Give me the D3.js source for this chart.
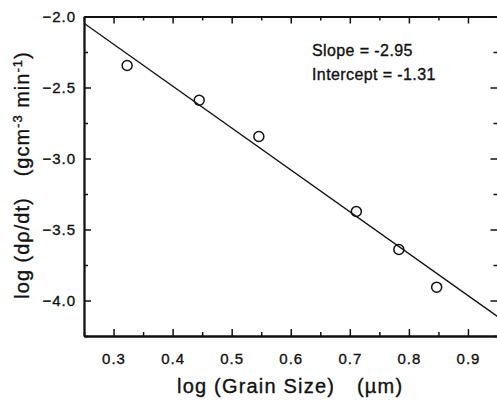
<!DOCTYPE html>
<html>
<head>
<meta charset="utf-8">
<script src="https://cdn.jsdelivr.net/npm/d3@7/dist/d3.min.js"></script>
<style>
  html, body { margin: 0; padding: 0; background: #fff; }
  svg { display: block; }
  text { font-family: "Liberation Sans", Arial, Helvetica, sans-serif; fill: #111; stroke: #111; stroke-width: 0.35px; }
</style>
</head>
<body>
<svg id="chart" width="497" height="403"></svg>
<script>
// Densification rate vs. grain size (log-log), with least-squares fit
const grainLog = [0.323, 0.445, 0.546, 0.711, 0.783, 0.847];
const rateLog  = [-2.345, -2.59, -2.845, -3.373, -3.641, -3.906];

// Fit parameters printed on the chart
const fitSlope = -2.95;
const fitIntercept = -1.31;

const xMajor = [0.3, 0.4, 0.5, 0.6, 0.7, 0.8, 0.9];
const xMinor = [0.25, 0.35, 0.45, 0.55, 0.65, 0.75, 0.85, 0.95];
const yMajor = [-2.0, -2.5, -3.0, -3.5, -4.0];
const yMinor = [-2.25, -2.75, -3.25, -3.75, -4.25];

const xDomain = [0.25, 0.95];
const yDomain = [-4.25, -2.0];

const svg = d3.select("#chart");
const L = 84, R = 497.5, T = 16.5, B = 336;

const x = d3.scaleLinear().domain(xDomain).range([L, R]);
const y = d3.scaleLinear().domain(yDomain).range([B, T]);

const axisStyle = g => {
  g.select(".domain").attr("stroke", "#111").attr("stroke-width", 1.8);
  g.selectAll(".tick line").attr("stroke", "#111").attr("stroke-width", 1.5);
  g.selectAll("text").attr("fill", "#111");
};

// bottom axis with labels
svg.append("g")
  .attr("transform", `translate(0,${B})`)
  .call(d3.axisBottom(x).tickValues(xMajor).tickSize(-7).tickPadding(17).tickFormat(d3.format(".1f")).tickSizeOuter(0))
  .call(axisStyle)
  .call(g => g.selectAll("text")
    .style("font-family", "'Liberation Sans', Arial, sans-serif")
    .style("font-size", "15px").style("letter-spacing", "1px"));
svg.append("g")
  .attr("transform", `translate(0,${B})`)
  .call(d3.axisBottom(x).tickValues(xMinor).tickSize(-4).tickFormat("").tickSizeOuter(0))
  .call(axisStyle);

// top axis
svg.append("g")
  .attr("transform", `translate(0,${T})`)
  .call(d3.axisTop(x).tickValues(xMajor).tickSize(-7).tickFormat("").tickSizeOuter(0))
  .call(axisStyle);
svg.append("g")
  .attr("transform", `translate(0,${T})`)
  .call(d3.axisTop(x).tickValues(xMinor).tickSize(-4).tickFormat("").tickSizeOuter(0))
  .call(axisStyle);

// left axis with labels
svg.append("g")
  .attr("transform", `translate(${L},0)`)
  .call(d3.axisLeft(y).tickValues(yMajor).tickSize(-7).tickPadding(8).tickFormat(d3.format(".1f")).tickSizeOuter(0))
  .call(axisStyle)
  .call(g => g.selectAll("text")
    .style("font-family", "'Liberation Sans', Arial, sans-serif")
    .style("font-size", "15px").style("letter-spacing", "1px"));
svg.append("g")
  .attr("transform", `translate(${L},0)`)
  .call(d3.axisLeft(y).tickValues(yMinor).tickSize(-4).tickFormat("").tickSizeOuter(0))
  .call(axisStyle);

// right axis
svg.append("g")
  .attr("transform", `translate(${R},0)`)
  .call(d3.axisRight(y).tickValues(yMajor).tickSize(-7).tickFormat("").tickSizeOuter(0))
  .call(axisStyle);
svg.append("g")
  .attr("transform", `translate(${R},0)`)
  .call(d3.axisRight(y).tickValues(yMinor).tickSize(-4).tickFormat("").tickSizeOuter(0))
  .call(axisStyle);

// fitted line across the full x range
const fitLine = d3.line().x(d => x(d)).y(d => y(fitIntercept + fitSlope * d));
svg.append("path")
  .datum(xDomain)
  .attr("d", fitLine)
  .attr("fill", "none")
  .attr("stroke", "#111")
  .attr("stroke-width", 1.3);

// measured points
svg.append("g")
  .selectAll("circle")
  .data(grainLog.map((g, i) => [g, rateLog[i]]))
  .join("circle")
  .attr("cx", d => x(d[0]))
  .attr("cy", d => y(d[1]))
  .attr("r", 5)
  .attr("fill", "none")
  .attr("stroke", "#111")
  .attr("stroke-width", 1.5);

// fit annotation
const note = svg.append("g").style("font-size", "16px").style("letter-spacing", "0.4px");
note.append("text").attr("x", 312).attr("y", 56).text(`Slope = ${fitSlope.toFixed(2)}`);
note.append("text").attr("x", 312).attr("y", 80).text(`Intercept = ${fitIntercept.toFixed(2)}`);

// axis titles
const xt = svg.append("g").style("font-size", "20px").style("letter-spacing", "1.2px");
xt.append("text").attr("x", 177).attr("y", 393).text("log (Grain Size)");
xt.append("text").attr("x", 357).attr("y", 393).text("(\u00b5m)");

const yt = svg.append("text")
  .attr("transform", "translate(29,175) rotate(-90)")
  .attr("text-anchor", "middle")
  .style("font-size", "20px")
  .style("letter-spacing", "1px");
yt.append("tspan").text("log (d\u03c1/dt)\u2003(gcm");
yt.append("tspan").attr("dy", -7).style("font-size", "13px").text("-3");
yt.append("tspan").attr("dy", 7).text(" min");
yt.append("tspan").attr("dy", -7).style("font-size", "13px").text("-1");
yt.append("tspan").attr("dy", 7).text(")");
</script>
</body>
</html>
